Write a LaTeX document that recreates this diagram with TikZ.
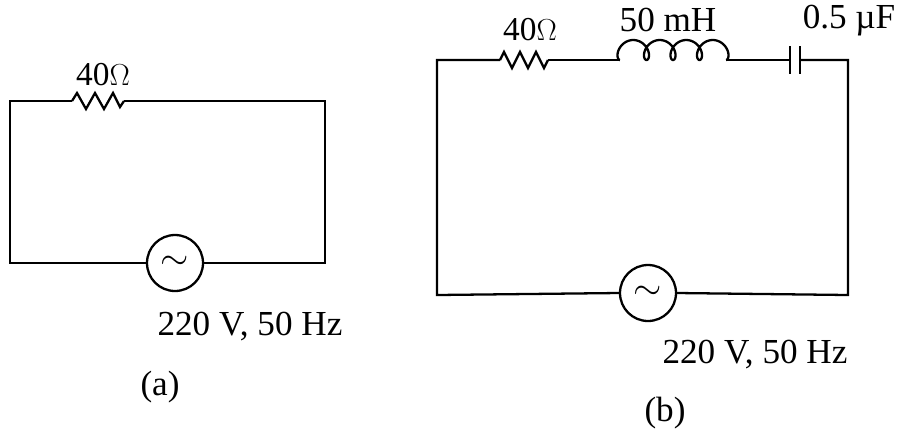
\documentclass[tikz,border=0pt]{standalone}
\usepackage{fontspec}
\setmainfont{Liberation Serif}
\usetikzlibrary{positioning}
\tikzset{
  wire/.style={line width=1.3pt},
  src/.style={circle, draw=black, line width=1.3pt, minimum size=1.12cm, inner sep=0pt, font=\fontsize{22}{22}\selectfont},
  lbl/.style={font=\fontsize{20}{24}\selectfont, inner sep=0pt},
}
\begin{document}
\begin{tikzpicture}[x=0.02cm, y=-0.02cm]
  \useasboundingbox (0,0) rectangle (900,441);
  % circuit (a)
  \coordinate (ATL) at (10,101);
  \coordinate (ATR) at (325,101);
  \coordinate (ABL) at (10,263);
  \coordinate (ABR) at (325,263);
  \coordinate (ARes1) at (72,101);
  \coordinate (ARes2) at (124,101);
  \node[src] (ASrc) at (175,263) {$\sim$};
  \draw[wire] (ARes1) -- (ATL) -- (ABL) -- (ASrc.west);
  \draw[wire] (ARes2) -- (ATR) -- (ABR) -- (ASrc.east);
  \draw[wire] (ARes1) -- ++(5,-8) -- ++(9,16) -- ++(9,-16) -- ++(9,16) -- ++(9,-16) -- ++(7,14) -- (ARes2);
  \node[lbl, font=\fontsize{19}{22}\selectfont] (ARLabel) at (103,75) {40$\Omega$};
  \node[lbl] (AVLabel) at (250,327) {220 V, 50 Hz};
  \node[lbl] (ACap) at (160,387) {(a)};

  % circuit (b)
  \coordinate (BTL) at (437,60);
  \coordinate (BTR) at (848,60);
  \coordinate (BBL) at (437,295);
  \coordinate (BBR) at (848,295);
  \coordinate (BRes1) at (500,60);
  \coordinate (BRes2) at (548,60);
  \coordinate (BInd1) at (620,60);
  \coordinate (BInd2) at (726,60);
  \coordinate (BCap1) at (790,60);
  \coordinate (BCap2) at (800,60);
  \node[src] (BSrc) at (648,293) {$\sim$};
  \draw[wire] (BRes1) -- (BTL) -- (BBL) -- (BSrc.west);
  \draw[wire] (BCap2) -- (BTR) -- (BBR) -- (BSrc.east);
  \draw[wire] (BRes1) -- ++(4,-8) -- ++(8,16) -- ++(8,-16) -- ++(8,16) -- ++(8,-16) -- ++(8,16) -- (BRes2);
  \draw[wire] (BRes2) -- (BInd1);
  \draw[wire, variable=\t] plot[domain=0:4, samples=160, smooth]
    ({620 + 26.5*\t - 8*sin(360*\t)}, {60 - 10*(1-cos(360*\t))});
  \draw[wire] (BInd2) -- (BCap1);
  \draw[wire] (790,46) -- (790,74);
  \draw[wire] (800,46) -- (800,74);
  \node[lbl, font=\fontsize{19}{22}\selectfont] (BRLabel) at (530,30) {40$\Omega$};
  \node[lbl] (BLLabel) at (668,20) {50 mH};
  \node[lbl] (BCLabel) at (849,21) {0.5 µF};
  \node[lbl] (BVLabel) at (755,355) {220 V, 50 Hz};
  \node[lbl] (BCapt) at (665,413) {(b)};
\end{tikzpicture}
\end{document}
